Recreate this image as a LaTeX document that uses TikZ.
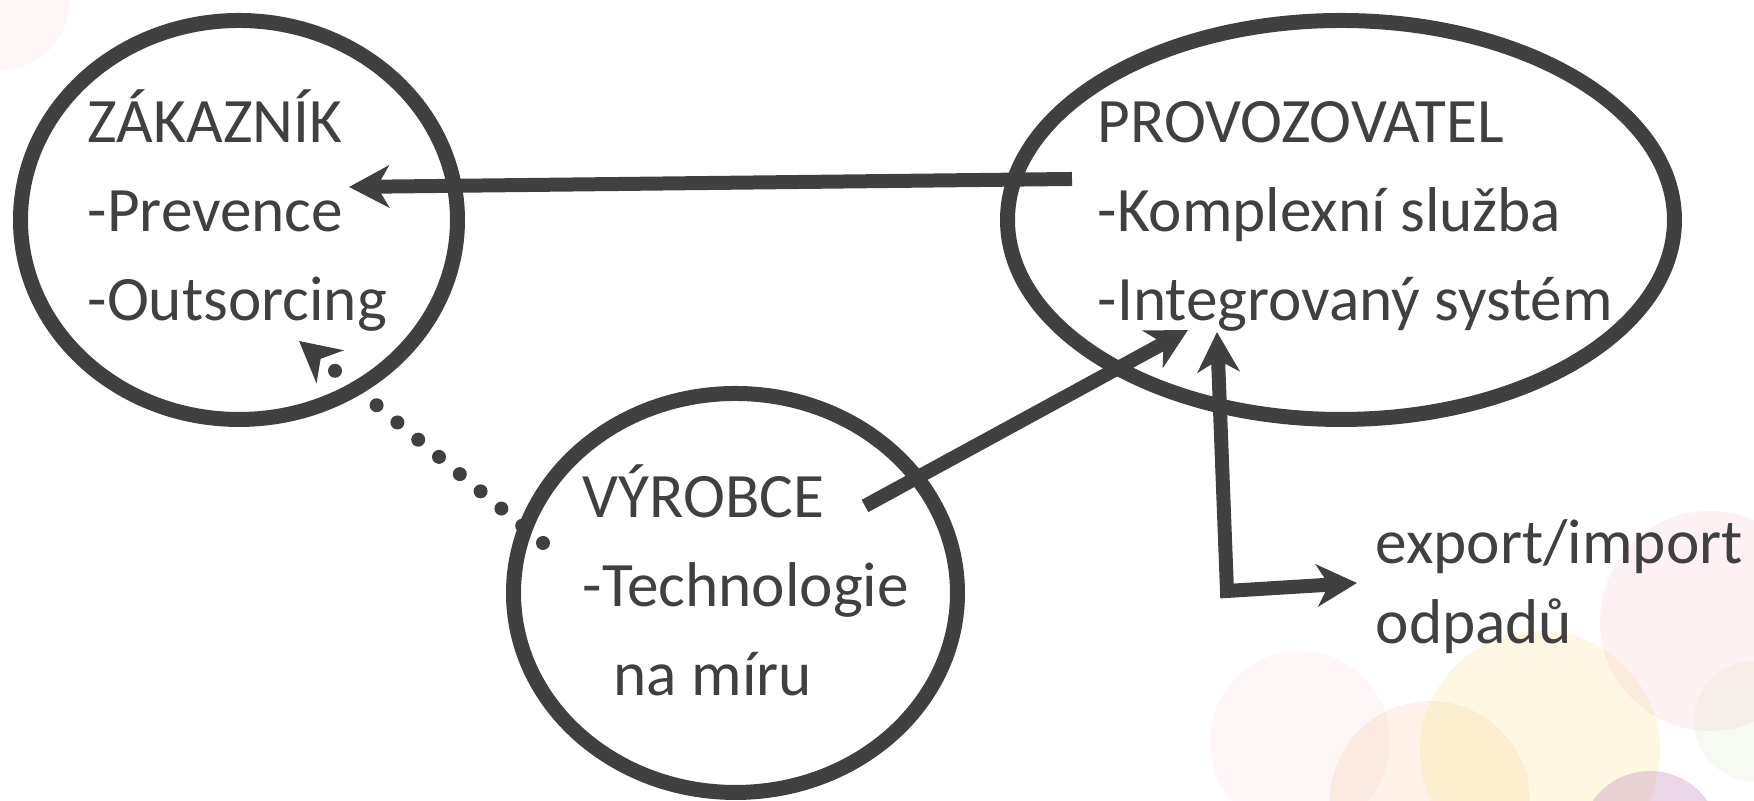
\documentclass[tikz,border=0pt]{standalone}
\usepackage{fontspec}
\setmainfont{Carlito}
\usepackage{tikz}
\usetikzlibrary{shapes.geometric,arrows.meta,positioning}
\definecolor{ink}{HTML}{404040}
\definecolor{blobpink}{HTML}{F4A6B4}
\definecolor{blobyellow}{HTML}{F9DC6E}
\definecolor{blobpeach}{HTML}{F6B98A}
\definecolor{blobviolet}{HTML}{B36BA8}
\definecolor{blobgreen}{HTML}{CFE6B8}

\tikzset{
  party/.style={ellipse, draw=ink, line width=0.15cm, inner sep=0pt},
  label text/.style={anchor=base west, inner sep=0pt, align=left, text=ink,
    font=\fontsize{18}{25.4}\selectfont},
  link/.style={draw=ink, line width=0.14cm, -{Stealth[length=0.4cm,width=0.42cm,inset=0.12cm]}},
  dotlink/.style={link, line cap=round, dash pattern=on 0pt off 0.27cm}
}

\begin{document}
\begin{tikzpicture}
%
\useasboundingbox (0,0) rectangle (17.54cm,8.01cm);
%
% background blobs
\fill[blobpink, opacity=0.10] (0,8.01) circle (0.7cm);
\fill[blobpink, opacity=0.10] (13.0,0.6) circle (0.9cm);
\fill[blobpeach, opacity=0.20] (14.3,0.0) circle (1.0cm);
\fill[blobyellow, opacity=0.20] (15.4,0.5) circle (1.2cm);
\fill[blobpink, opacity=0.16] (17.1,1.8) circle (1.1cm);
\fill[blobgreen, opacity=0.18] (17.54,0.8) circle (0.6cm);
\fill[blobviolet, opacity=0.28] (16.5,-0.4) circle (0.7cm);
%
% parties
\node[party, minimum width=4.37cm, minimum height=3.99cm] (zak) at (2.39,5.81) {};
\node[party, minimum width=6.67cm, minimum height=3.99cm] (prov) at (13.41,5.81) {};
\node[party, minimum width=4.44cm, minimum height=3.99cm] (vyr) at (7.355,2.08) {};
%
% texts (base = last line)
\node[label text] (zaktext) at (0.87,4.80) {ZÁKAZNÍK\\-Prevence\\-Outsorcing};
\node[label text] (provtext) at (10.97,4.80) {PROVOZOVATEL\\-Komplexní služba\\-Integrovaný systém};
\node[label text] (vyrtext) at (5.82,1.05) {VÝROBCE\\-Technologie\\\hspace{0.31cm}na míru};
\node[label text, font=\fontsize{18}{22.8}\selectfont] (odp) at (13.75,1.57) {export/import\\odpadů};
%
% connector ends
\coordinate (pz0) at (10.72,6.22);
\coordinate (pz1) at (3.49,6.14);
\coordinate (vp0) at (8.65,2.95);
\coordinate (vp1) at (11.88,4.71);
\coordinate (ei0) at (12.17,4.69);
\coordinate (ei1) at (12.27,2.10);
\coordinate (ei2) at (13.57,2.18);
\coordinate (vz0) at (5.43,2.58);
\coordinate (vz1) at (2.99,4.60);
%
\draw[link] (pz0) -- (pz1);
\draw[link] (vp0) -- (vp1);
\draw[link, {Stealth[length=0.4cm,width=0.42cm,inset=0.12cm]}-{Stealth[length=0.4cm,width=0.42cm,inset=0.12cm]}] (ei0) -- (ei1) -- (ei2);
\draw[dotlink] (vz0) -- (vz1);
%
\end{tikzpicture}
\end{document}
